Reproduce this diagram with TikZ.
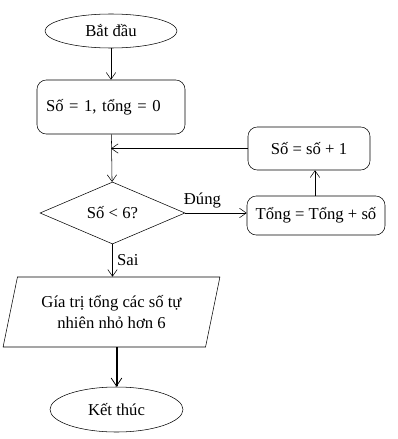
\documentclass[tikz,border=0pt]{standalone}
\usepackage{fontspec}
\setmainfont{Liberation Serif}
\usetikzlibrary{arrows.meta,positioning,shapes.geometric,calc}

\begin{document}
\begin{tikzpicture}[x=0.75pt,y=-0.75pt,
  every node/.style={font=\fontsize{12.5}{15.5}\selectfont},
  terminal/.style={draw,ellipse,inner sep=0pt},
  procbox/.style={draw,rounded corners=7pt,inner sep=0pt},
  flow/.style={-{Straight Barb[length=5pt,width=7pt]}}]
\useasboundingbox (0,0) rectangle (397,439);
\node[terminal,minimum width=99pt,minimum height=25.5pt] (start) at (111,31) {Bắt đầu};
\node[procbox,minimum width=111pt,minimum height=40.5pt,text width=97.5pt,align=left] (init) at (111,107) {Số = 1, tổng = 0};
\node[draw,diamond,aspect=2.3,inner sep=0pt,minimum width=108.75pt,minimum height=46.5pt] (test) at (112.5,213) {Số < 6?};
\node[procbox,minimum width=103.5pt,minimum height=29.25pt] (sum) at (316,215.5) {Tổng = Tổng + số};
\node[procbox,minimum width=91.5pt,minimum height=32.25pt] (incr) at (309,148.5) {Số = số + 1};
\node[draw,trapezium,trapezium left angle=72,trapezium right angle=108,trapezium stretches=true,
  minimum width=162.75pt,minimum height=52.5pt,inner sep=0pt,align=center] (result) at (111.5,312)
  {Gía trị tổng các số tự\\nhiên nhỏ hơn 6};
\node[terminal,minimum width=99.75pt,minimum height=33.75pt] (stop) at (116.5,409.5) {Kết thúc};
\coordinate (back) at (init.south |- incr.west);
% connectors
\draw[flow] (start) -- (init);
\draw[flow] (init) -- (test);
\draw[flow] (incr.west) -- (back);
\draw[flow] (test.east) -- (test.east -| sum.west) node[pos=0.28,above] {Đúng};
\draw[flow] (sum.north -| 315,0) -- (incr.south -| 315,0);
\draw[flow] (test) -- (test.south |- result.north) node[midway,right] {Sai};
\draw[-{Straight Barb[length=6pt,width=8pt,line width=0.6pt]},line width=1.5pt] (result.south -| stop.north) -- (stop);
\end{tikzpicture}
\end{document}
